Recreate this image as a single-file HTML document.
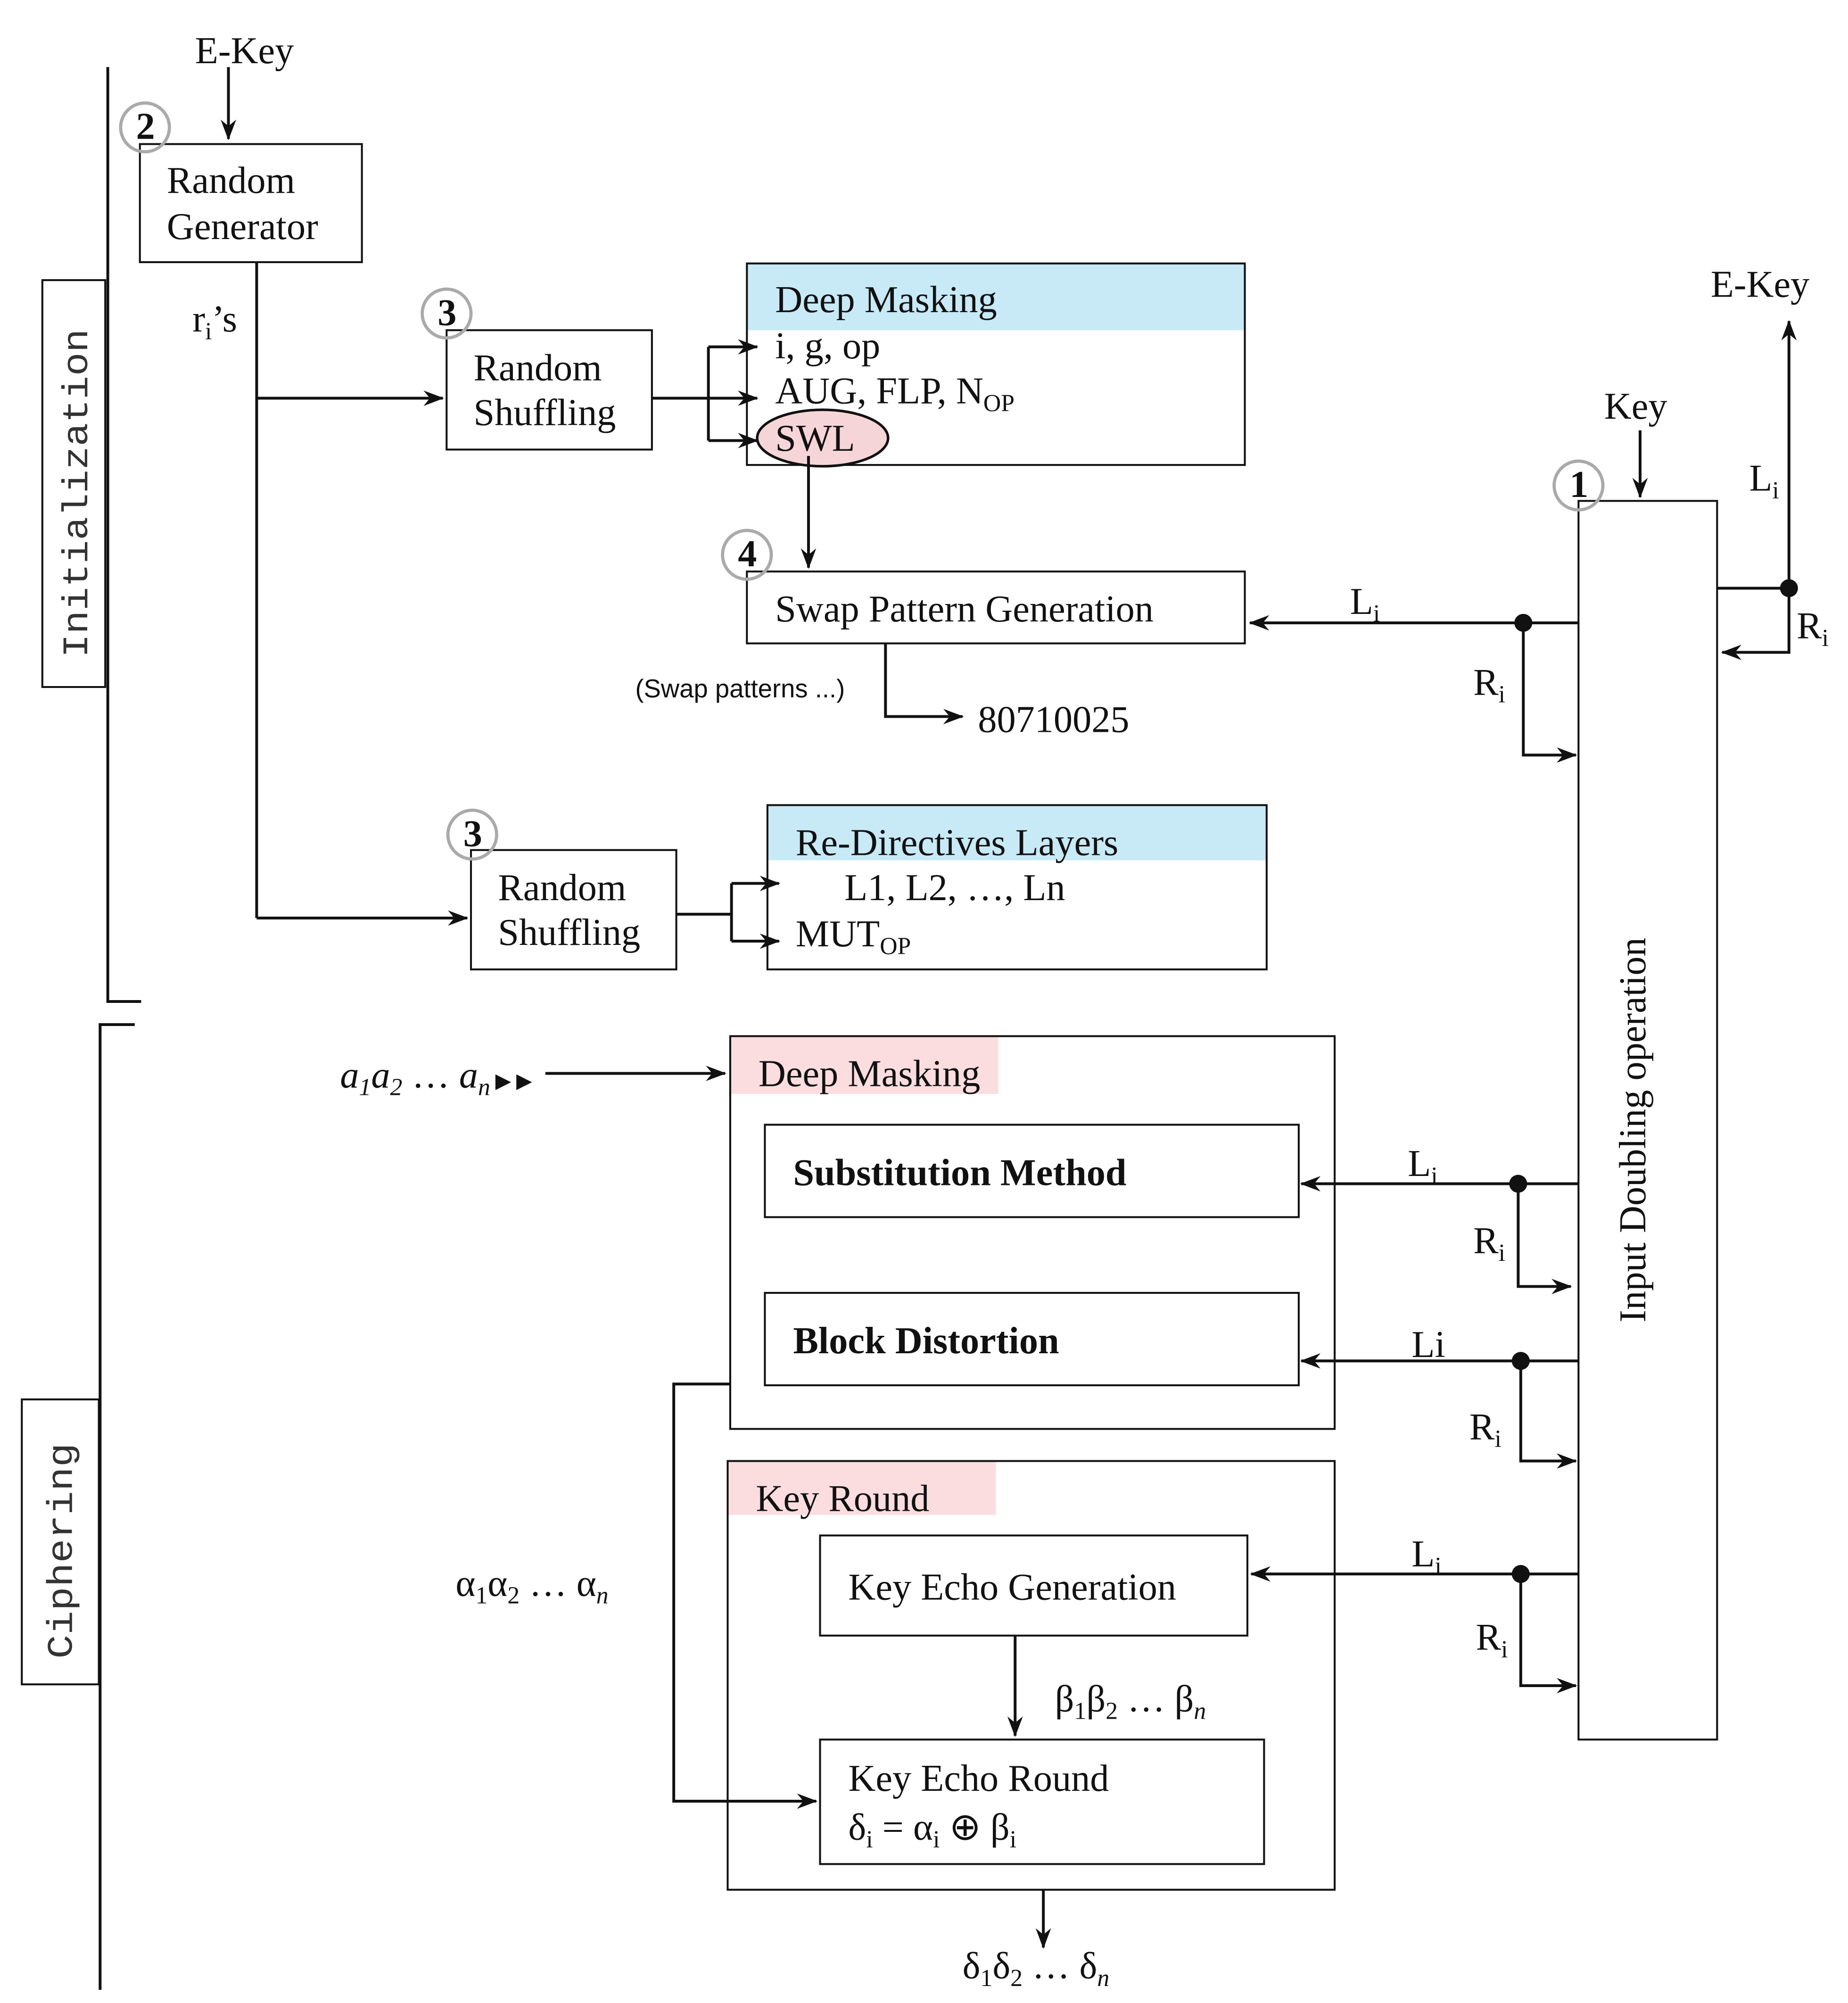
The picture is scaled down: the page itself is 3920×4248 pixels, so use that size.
<!DOCTYPE html>
<html><head><meta charset="utf-8"><style>
html,body{margin:0;padding:0;background:#fff;}
svg{display:block;}
text{font-family:"Liberation Serif",serif;font-size:29.5px;fill:#111;}
.mono{font-family:"Liberation Mono",monospace;font-size:28px;fill:#333;}
.sub{font-size:19px;}
</style></head><body>
<svg width="3920" height="4248" viewBox="0 0 1440 1560" xmlns="http://www.w3.org/2000/svg">
<defs><marker id="a" markerWidth="16" markerHeight="12" refX="15" refY="6" orient="auto" markerUnits="userSpaceOnUse"><path d="M0,0 L16,6 L0,12 L5,6 Z" fill="#111"/></marker></defs>
<g stroke="#111" stroke-width="2.2" fill="none">
<polyline points="84,52 84,780 110,780"/>
<polyline points="78,1550 78,798 105,798"/>
<rect x="33" y="218" width="49" height="317" stroke-width="1.5"/>
<rect x="17" y="1090" width="60" height="222" stroke-width="1.5"/>
<line x1="178" y1="52" x2="178" y2="108" marker-end="url(#a)"/>
<rect x="109" y="112" width="173" height="92" stroke-width="1.5"/>
<line x1="200" y1="204" x2="200" y2="715"/>
<line x1="200" y1="310" x2="345" y2="310" marker-end="url(#a)"/>
<line x1="200" y1="715" x2="364" y2="715" marker-end="url(#a)"/>
<rect x="348" y="257" width="160" height="93" stroke-width="1.5"/>
<line x1="508" y1="310" x2="552" y2="310"/>
<line x1="552" y1="270" x2="552" y2="343"/>
<line x1="552" y1="270" x2="590" y2="270" marker-end="url(#a)"/>
<line x1="552" y1="310" x2="590" y2="310" marker-end="url(#a)"/>
<line x1="552" y1="343" x2="590" y2="343" marker-end="url(#a)"/>
</g>
<rect x="582" y="205" width="388" height="52" fill="#c8e9f6"/>
<rect x="582" y="205" width="388" height="157" fill="none" stroke="#111" stroke-width="1.5"/>
<ellipse cx="641" cy="341" rx="51" ry="22" fill="#f6d5d8" stroke="#111" stroke-width="2"/>
<g stroke="#111" stroke-width="2.2" fill="none">
<line x1="630" y1="355" x2="630" y2="442" marker-end="url(#a)"/>
<rect x="582" y="445" width="388" height="56" stroke-width="1.5"/>
<polyline points="690,501 690,558 750,558" marker-end="url(#a)"/>
<line x1="1230" y1="485" x2="974" y2="485" marker-end="url(#a)"/>
<polyline points="1187,485 1187,588 1228,588" marker-end="url(#a)"/>
<rect x="1230" y="390" width="108" height="965" stroke-width="1.5"/>
<line x1="1278" y1="335" x2="1278" y2="387" marker-end="url(#a)"/>
<line x1="1338" y1="458" x2="1394" y2="458"/>
<line x1="1394" y1="458" x2="1394" y2="250" marker-end="url(#a)"/>
<polyline points="1394,458 1394,508 1342,508" marker-end="url(#a)"/>
<rect x="367" y="662" width="160" height="93" stroke-width="1.5"/>
<line x1="527" y1="712" x2="570" y2="712"/>
<line x1="570" y1="688" x2="570" y2="733"/>
<line x1="570" y1="688" x2="607" y2="688" marker-end="url(#a)"/>
<line x1="570" y1="733" x2="607" y2="733" marker-end="url(#a)"/>
</g>
<rect x="598" y="627" width="389" height="43" fill="#c8e9f6"/>
<rect x="598" y="627" width="389" height="128" fill="none" stroke="#111" stroke-width="1.5"/>
<rect x="569" y="807" width="209" height="45" fill="#fbdde0"/>
<rect x="567" y="1138" width="209" height="42" fill="#fbdde0"/>
<g stroke="#111" stroke-width="2.2" fill="none">
<rect x="569" y="807" width="471" height="306" stroke-width="1.5"/>
<line x1="425" y1="836" x2="565" y2="836" marker-end="url(#a)"/>
<rect x="596" y="876" width="416" height="72" stroke-width="1.5"/>
<rect x="596" y="1007" width="416" height="72" stroke-width="1.5"/>
<line x1="1230" y1="922" x2="1014" y2="922" marker-end="url(#a)"/>
<polyline points="1183,922 1183,1002 1224,1002" marker-end="url(#a)"/>
<line x1="1230" y1="1060" x2="1014" y2="1060" marker-end="url(#a)"/>
<polyline points="1185,1060 1185,1138 1228,1138" marker-end="url(#a)"/>
<polyline points="569,1078 525,1078 525,1403 636,1403" marker-end="url(#a)"/>
<rect x="567" y="1138" width="473" height="334" stroke-width="1.5"/>
<rect x="639" y="1196" width="333" height="78" stroke-width="1.5"/>
<line x1="1230" y1="1226" x2="975" y2="1226" marker-end="url(#a)"/>
<polyline points="1185,1226 1185,1313 1228,1313" marker-end="url(#a)"/>
<line x1="791" y1="1274" x2="791" y2="1352" marker-end="url(#a)"/>
<rect x="639" y="1355" width="346" height="97" stroke-width="1.5"/>
<line x1="813" y1="1472" x2="813" y2="1517" marker-end="url(#a)"/>
</g>
<g fill="#111">
<circle cx="1187" cy="485" r="7"/><circle cx="1394" cy="458" r="7"/>
<circle cx="1183" cy="922" r="7"/><circle cx="1185" cy="1060" r="7"/><circle cx="1185" cy="1226" r="7"/>
</g>
<g fill="none" stroke="#aaa" stroke-width="2.5">
<circle cx="113" cy="99" r="19"/><circle cx="348" cy="244" r="19"/><circle cx="582" cy="432" r="19"/>
<circle cx="1230" cy="378" r="19"/><circle cx="368" cy="650" r="19"/>
</g>
<g style="font-weight:bold;font-size:24px">
<text x="106" y="108">2</text><text x="341" y="253">3</text><text x="575" y="441">4</text><text x="1223" y="387">1</text><text x="361" y="659">3</text>
</g>
<text class="mono" transform="translate(68,512) rotate(-90)" textLength="256" lengthAdjust="spacingAndGlyphs">Initialization</text>
<text class="mono" transform="translate(56,1292) rotate(-90)" textLength="168" lengthAdjust="spacingAndGlyphs">Ciphering</text>
<text x="152" y="49">E-Key</text>
<text x="130" y="150">Random</text><text x="130" y="186">Generator</text>
<text x="150" y="258">r<tspan class="sub" dy="6">i</tspan><tspan dy="-6">’s</tspan></text>
<text x="369" y="296">Random</text><text x="369" y="331">Shuffling</text>
<text x="604" y="243" fill="#1a3b5a">Deep Masking</text>
<text x="604" y="279">i, g, op</text>
<text x="604" y="314">AUG, FLP, N<tspan class="sub" dy="6">OP</tspan></text>
<text x="604" y="351">SWL</text>
<text x="604" y="484">Swap Pattern Generation</text>
<text x="495" y="543" style="font-family:'Liberation Sans',sans-serif;font-size:20px">(Swap patterns ...)</text>
<text x="762" y="570">80710025</text>
<text x="1052" y="478">L<tspan class="sub" dy="6">i</tspan></text>
<text x="1148" y="541">R<tspan class="sub" dy="6">i</tspan></text>
<text x="1250" y="326">Key</text>
<text x="1333" y="231">E-Key</text>
<text x="1363" y="382">L<tspan class="sub" dy="6">i</tspan></text>
<text x="1400" y="497">R<tspan class="sub" dy="6">i</tspan></text>
<text transform="translate(1282,1030) rotate(-90)">Input Doubling operation</text>
<text x="388" y="701">Random</text><text x="388" y="736">Shuffling</text>
<text x="620" y="666" fill="#1a3b5a">Re-Directives Layers</text>
<text x="658" y="701">L1, L2, …, Ln</text>
<text x="620" y="737">MUT<tspan class="sub" dy="6">OP</tspan></text>
<text x="265" y="847" font-style="italic">a<tspan class="sub" dy="6">1</tspan><tspan dy="-6">a</tspan><tspan class="sub" dy="6">2</tspan><tspan dy="-6" font-style="normal"> … </tspan>a<tspan class="sub" dy="6">n</tspan><tspan dy="-6" font-style="normal" style="font-size:16px"> ▶ ▶</tspan></text>
<text x="591" y="846">Deep Masking</text>
<text x="618" y="923" font-weight="bold">Substitution Method</text>
<text x="618" y="1054" font-weight="bold">Block Distortion</text>
<text x="1097" y="916">L<tspan class="sub" dy="6">i</tspan></text>
<text x="1148" y="976">R<tspan class="sub" dy="6">i</tspan></text>
<text x="1100" y="1057">Li</text>
<text x="1145" y="1121">R<tspan class="sub" dy="6">i</tspan></text>
<text x="355" y="1243">α<tspan class="sub" dy="6">1</tspan><tspan dy="-6">α</tspan><tspan class="sub" dy="6">2</tspan><tspan dy="-6"> … α</tspan><tspan class="sub" dy="6" font-style="italic">n</tspan></text>
<text x="589" y="1177">Key Round</text>
<text x="661" y="1246">Key Echo Generation</text>
<text x="1100" y="1220">L<tspan class="sub" dy="6">i</tspan></text>
<text x="1150" y="1285">R<tspan class="sub" dy="6">i</tspan></text>
<text x="822" y="1333">β<tspan class="sub" dy="6">1</tspan><tspan dy="-6">β</tspan><tspan class="sub" dy="6">2</tspan><tspan dy="-6"> … β</tspan><tspan class="sub" dy="6" font-style="italic">n</tspan></text>
<text x="661" y="1395">Key Echo Round</text>
<text x="661" y="1433">δ<tspan class="sub" dy="6">i</tspan><tspan dy="-6"> = α</tspan><tspan class="sub" dy="6">i</tspan><tspan dy="-6"> ⊕ β</tspan><tspan class="sub" dy="6">i</tspan></text>
<text x="750" y="1541">δ<tspan class="sub" dy="6">1</tspan><tspan dy="-6">δ</tspan><tspan class="sub" dy="6">2</tspan><tspan dy="-6"> … δ</tspan><tspan class="sub" dy="6" font-style="italic">n</tspan></text>
</svg>
</body></html>
